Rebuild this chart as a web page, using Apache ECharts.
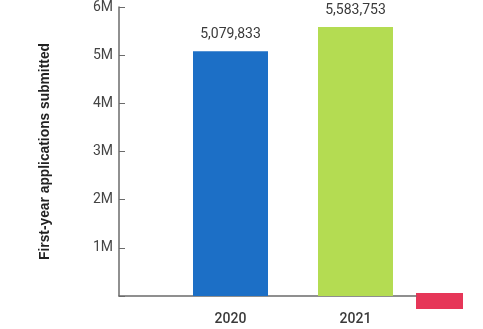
<!DOCTYPE html>
<html>
<head>
<meta charset="utf-8">
<script src="https://cdn.jsdelivr.net/npm/echarts@6/dist/echarts.min.js"></script>
<style>
  html, body { margin: 0; padding: 0; background: #ffffff; }
  #chart { width: 483px; height: 329px; }
</style>
</head>
<body>
<div id="chart"></div>
<script>
// First-year applications submitted, by season
const years = ['2020', '2021'];
const applications = [5079833, 5583753];
const barColors = ['#1c6fc6', '#b4dc52'];
const yTicks = [0, 1000000, 2000000, 3000000, 4000000, 5000000, 6000000];

const chart = echarts.init(document.getElementById('chart'), null, { renderer: 'canvas' });

const fmtM = v => (v === 0 ? '' : (v / 1000000) + 'M');

chart.setOption({
  backgroundColor: '#ffffff',
  animation: false,
  grid: [
    // frame grid: carries the full-length axes
    { left: 119, right: 67, top: 7, bottom: 33 },
    // bar grid: places the two year columns
    { left: 168, width: 250, top: 7, bottom: 33 }
  ],
  xAxis: [
    {
      gridIndex: 0, type: 'category', data: years,
      axisLine: { lineStyle: { color: '#6b6b6b', width: 1.5 } },
      axisTick: { show: false }, axisLabel: { show: false }
    },
    {
      gridIndex: 1, type: 'category', data: years,
      axisLine: { show: false }, axisTick: { show: false },
      axisLabel: { color: '#3a3a3a', fontSize: 14, fontWeight: 500, fontFamily: 'Roboto', margin: 16 }
    }
  ],
  yAxis: [
    {
      gridIndex: 0, type: 'value', min: yTicks[0], max: yTicks[yTicks.length - 1], interval: 1000000,
      name: 'First-year applications submitted',
      nameLocation: 'middle', nameGap: 67,
      nameTextStyle: { color: '#222222', fontSize: 13.8, fontWeight: 'bold', fontFamily: 'Liberation Sans' },
      axisLine: { show: true, lineStyle: { color: '#6b6b6b', width: 1.5 } },
      axisTick: { show: true, inside: true, length: 6, lineStyle: { color: '#6b6b6b' } },
      splitLine: { show: false },
      axisLabel: { formatter: fmtM, color: '#444444', fontSize: 14, fontFamily: 'Roboto', margin: 6 }
    },
    {
      gridIndex: 1, type: 'value', min: yTicks[0], max: yTicks[yTicks.length - 1], interval: 1000000,
      show: false, splitLine: { show: false }
    }
  ],
  series: [
    {
      type: 'bar', xAxisIndex: 1, yAxisIndex: 1,
      barWidth: 75,
      data: applications.map((v, i) => ({ value: v, itemStyle: { color: barColors[i] } })),
      label: {
        show: true, position: 'top', distance: 10,
        color: '#3a3a3a', fontSize: 14, fontFamily: 'Roboto',
        formatter: p => p.value.toLocaleString('en-US')
      }
    }
  ],
  graphic: [
    { type: 'rect', left: 416, top: 293, shape: { width: 47, height: 16 }, style: { fill: '#e63658' } }
  ]
});
</script>
</body>
</html>
